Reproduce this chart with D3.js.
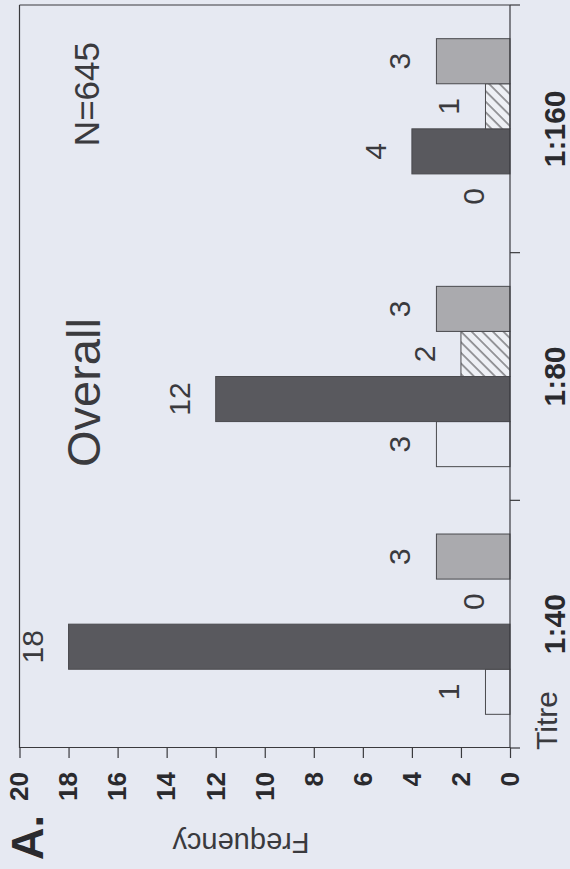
<!DOCTYPE html>
<html><head><meta charset="utf-8">
<script src="https://cdn.jsdelivr.net/npm/d3@7"></script>
<style>body{margin:0;background:#e6e9f2;}svg{display:block;}text{font-family:"Liberation Sans",Arial,sans-serif;}</style>
</head><body>
<script>
const categories = ["1:40", "1:80", "1:160"];
const seriesKeys = ["open", "solid", "hatched", "grey"];
const openValues = [1, 3, 0];
const solidValues = [18, 12, 4];
const hatchedValues = [0, 2, 1];
const greyValues = [3, 3, 3];
const yTicks = [0, 2, 4, 6, 8, 10, 12, 14, 16, 18, 20];

const seriesValues = [openValues, solidValues, hatchedValues, greyValues];
const rows = [];
categories.forEach((c, ci) => seriesKeys.forEach((k, si) => rows.push({cat: c, key: k, value: seriesValues[si][ci]})));

const W = 869, BG = "#e6e9f2";
const svg = d3.select("body").append("svg").attr("width", 570).attr("height", 869);
svg.append("rect").attr("width", 570).attr("height", 869).attr("fill", BG);

const defs = svg.append("defs");
const pat = defs.append("pattern").attr("id", "hatch").attr("patternUnits", "userSpaceOnUse")
  .attr("width", 7.5).attr("height", 7.5).attr("patternTransform", "rotate(45)");
pat.append("rect").attr("width", 7.5).attr("height", 7.5).attr("fill", "#eef0f5");
pat.append("line").attr("x1", 1).attr("y1", 0).attr("x2", 1).attr("y2", 7.5)
  .attr("stroke", "#8e8e92").attr("stroke-width", 1.8);

const g = svg.append("g").attr("transform", `translate(0,${W}) rotate(-90)`);

const pLeft = 121, pRight = 864, pTop = 19.5, pBottom = 510;
const x0 = d3.scaleBand().domain(categories).range([pLeft, pRight]).padding(0);
const x1 = d3.scaleBand().domain(seriesKeys).range([x0.bandwidth() * 0.136, x0.bandwidth() * 0.864]).padding(0);
const y = d3.scaleLinear().domain([0, 20]).range([pBottom, pTop]);

const fills = {open: BG, solid: "#59595e", hatched: "url(#hatch)", grey: "#aaaaae"};
const ink = "#3a3a3e";

// frame (top & right in the chart's own orientation)
g.append("line").attr("x1", pLeft).attr("x2", pRight).attr("y1", pTop).attr("y2", pTop).attr("stroke", ink).attr("stroke-width", 1.2);
g.append("line").attr("x1", pRight).attr("x2", pRight).attr("y1", pTop).attr("y2", pBottom).attr("stroke", ink).attr("stroke-width", 1.2);

// bars
g.selectAll("rect.bar").data(rows.filter(d => d.value > 0)).join("rect").attr("class", "bar")
  .attr("x", d => x0(d.cat) + x1(d.key))
  .attr("y", d => y(d.value))
  .attr("width", x1.bandwidth())
  .attr("height", d => y(0) - y(d.value))
  .attr("fill", d => fills[d.key])
  .attr("stroke", "#4a4a4e").attr("stroke-width", 1);

// value labels
g.selectAll("text.val").data(rows).join("text").attr("class", "val")
  .attr("x", d => x0(d.cat) + x1(d.key) + x1.bandwidth() / 2)
  .attr("y", d => y(d.value) - 26)
  .attr("text-anchor", "middle").attr("font-size", 30).attr("fill", ink)
  .text(d => d.value);

// frequency axis
const yAxis = g.append("g").attr("transform", `translate(${pLeft},0)`)
  .call(d3.axisLeft(y).tickValues(yTicks).tickSize(10).tickSizeOuter(0).tickPadding(14));
yAxis.select(".domain").attr("stroke", ink).attr("stroke-width", 1.2);
yAxis.selectAll(".tick line").attr("stroke", ink).attr("stroke-width", 1.2);
yAxis.selectAll(".tick text").attr("font-size", 26).attr("font-weight", "bold").attr("fill", "#2a2a2e")
  .attr("font-family", "Liberation Sans, Arial, sans-serif");

// category axis
const bounds = categories.map(c => x0(c)).concat([x0.range()[1]]);
g.append("line").attr("x1", pLeft).attr("x2", pRight).attr("y1", pBottom).attr("y2", pBottom).attr("stroke", ink).attr("stroke-width", 1.2);
g.selectAll("line.ctick").data(bounds).join("line").attr("class", "ctick")
  .attr("x1", d => d).attr("x2", d => d).attr("y1", pBottom).attr("y2", pBottom + 10)
  .attr("stroke", ink).attr("stroke-width", 1.2);
g.selectAll("text.cat").data(categories).join("text").attr("class", "cat")
  .attr("x", d => x0(d) + x0.bandwidth() / 2).attr("y", 565)
  .attr("text-anchor", "middle").attr("font-size", 30).attr("font-weight", "bold").attr("fill", "#2a2a2e")
  .text(d => d);
g.append("text").attr("x", 119).attr("y", 557).attr("font-size", 30).attr("fill", ink).text("Titre");

// titles
g.append("text").attr("x", 402).attr("y", 100).attr("font-size", 47).attr("fill", ink).text("Overall");
g.append("text").attr("x", 827).attr("y", 99).attr("text-anchor", "end").attr("font-size", 35).attr("fill", ink).text("N=645");
g.append("text").attr("transform", "translate(36,241) rotate(-90)").attr("text-anchor", "middle")
  .attr("font-size", 29).attr("fill", ink).text("Frequency");
g.append("text").attr("x", 9).attr("y", 43).attr("font-size", 45).attr("font-weight", "bold").attr("fill", "#2a2a2e").text("A.");
</script>
</body></html>
